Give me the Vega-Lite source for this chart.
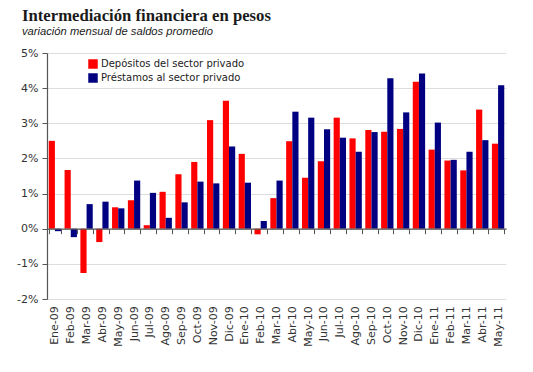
{
  "$schema": "https://vega.github.io/schema/vega-lite/v6.json",
  "autosize": {"type": "none"},
  "width": 459,
  "height": 246,
  "padding": {"left": 47, "top": 53, "right": 27, "bottom": 73},
  "background": "white",
  "title": {
    "text": "Intermediación financiera en pesos",
    "subtitle": "variación mensual de saldos promedio",
    "anchor": "start",
    "frame": "group",
    "dx": -25,
    "offset": 10,
    "font": "Liberation Serif",
    "fontSize": 16.7,
    "fontWeight": "bold",
    "color": "#1a1a1a",
    "subtitleFont": "Liberation Sans",
    "subtitleFontSize": 11.2,
    "subtitleFontStyle": "italic",
    "subtitleColor": "#1a1a1a",
    "subtitlePadding": 1
  },
  "data": {
    "values": [
      {"mes": "Ene-09", "dep": 2.50, "pre": -0.07},
      {"mes": "Feb-09", "dep": 1.67, "pre": -0.24},
      {"mes": "Mar-09", "dep": -1.26, "pre": 0.70},
      {"mes": "Abr-09", "dep": -0.38, "pre": 0.77},
      {"mes": "May-09", "dep": 0.61, "pre": 0.58},
      {"mes": "Jun-09", "dep": 0.81, "pre": 1.37},
      {"mes": "Jul-09", "dep": 0.10, "pre": 1.02},
      {"mes": "Ago-09", "dep": 1.05, "pre": 0.31},
      {"mes": "Sep-09", "dep": 1.55, "pre": 0.75},
      {"mes": "Oct-09", "dep": 1.90, "pre": 1.34},
      {"mes": "Nov-09", "dep": 3.09, "pre": 1.29},
      {"mes": "Dic-09", "dep": 3.64, "pre": 2.34},
      {"mes": "Ene-10", "dep": 2.13, "pre": 1.31},
      {"mes": "Feb-10", "dep": -0.16, "pre": 0.22},
      {"mes": "Mar-10", "dep": 0.87, "pre": 1.37},
      {"mes": "Abr-10", "dep": 2.49, "pre": 3.33},
      {"mes": "May-10", "dep": 1.45, "pre": 3.16},
      {"mes": "Jun-10", "dep": 1.92, "pre": 2.83},
      {"mes": "Jul-10", "dep": 3.16, "pre": 2.59},
      {"mes": "Ago-10", "dep": 2.57, "pre": 2.19},
      {"mes": "Sep-10", "dep": 2.81, "pre": 2.75},
      {"mes": "Oct-10", "dep": 2.76, "pre": 4.28},
      {"mes": "Nov-10", "dep": 2.84, "pre": 3.31},
      {"mes": "Dic-10", "dep": 4.18, "pre": 4.42},
      {"mes": "Ene-11", "dep": 2.25, "pre": 3.02},
      {"mes": "Feb-11", "dep": 1.94, "pre": 1.96},
      {"mes": "Mar-11", "dep": 1.66, "pre": 2.19},
      {"mes": "Abr-11", "dep": 3.39, "pre": 2.52},
      {"mes": "May-11", "dep": 2.42, "pre": 4.08}
    ]
  },
  "transform": [
    {"fold": ["dep", "pre"], "as": ["clave", "valor"]},
    {"lookup": "clave", "from": {"data": {"values": [
      {"clave": "dep", "serie": "Depósitos del sector privado"},
      {"clave": "pre", "serie": "Préstamos al sector privado"}
    ]}, "key": "clave", "fields": ["serie"]}}
  ],
  "mark": {"type": "bar"},
  "encoding": {
    "x": {
      "field": "mes",
      "type": "nominal",
      "sort": null,
      "title": null,
      "scale": {"paddingInner": 0.22, "paddingOuter": 0.11},
      "axis": {
        "orient": "bottom",
        "offset": -70.3,
        "labelAngle": -90,
        "labelAlign": "right",
        "labelBaseline": "middle",
        "labelPadding": 72,
        "labelFont": "DejaVu Sans",
        "labelFontSize": 11,
        "labelColor": "#333333",
        "tickBand": "extent",
        "tickSize": 5,
        "tickColor": "#555555",
        "domainColor": "#555555",
        "domainWidth": 1.2,
        "grid": false,
        "zindex": 1
      }
    },
    "xOffset": {"field": "serie", "type": "nominal", "scale": {"paddingInner": 0, "paddingOuter": 0}},
    "y": {
      "field": "valor",
      "type": "quantitative",
      "title": null,
      "scale": {"domain": [-2, 5], "nice": false, "zero": false},
      "axis": {
        "values": [-2, -1, 0, 1, 2, 3, 4, 5],
        "labelExpr": "datum.value + '%'",
        "labelFont": "DejaVu Sans",
        "labelFontSize": 11,
        "labelColor": "#333333",
        "labelPadding": 4,
        "tickSize": 5,
        "tickColor": "#555555",
        "domainColor": "#555555",
        "domainWidth": 1.2,
        "gridColor": "#dddddd",
        "gridWidth": 1
      }
    },
    "color": {
      "field": "serie",
      "type": "nominal",
      "scale": {"domain": ["Depósitos del sector privado", "Préstamos al sector privado"], "range": ["#ff0000", "#000080"]},
      "legend": {
        "title": null,
        "orient": "none",
        "legendX": 41,
        "legendY": 6,
        "symbolType": "square",
        "symbolSize": 90,
        "symbolStrokeWidth": 0,
        "labelFont": "DejaVu Sans",
        "labelFontSize": 10,
        "labelColor": "#222222",
        "labelOffset": 3,
        "rowPadding": 4
      }
    }
  },
  "config": {"view": {"stroke": null}}
}
